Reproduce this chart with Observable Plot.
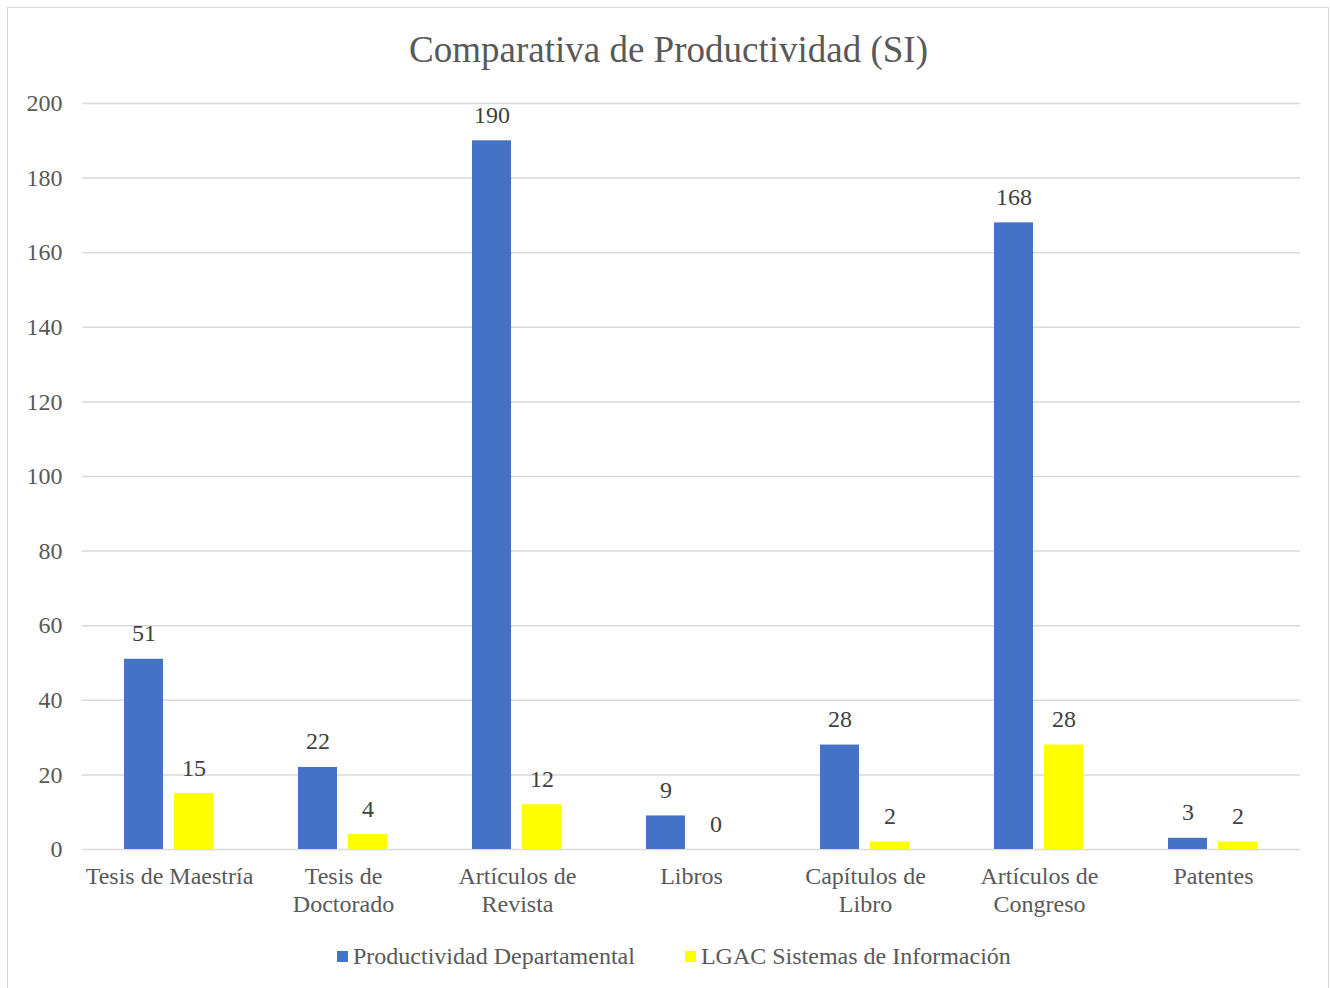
<!DOCTYPE html>
<html><head><meta charset="utf-8">
<script src="https://cdn.jsdelivr.net/npm/d3@7"></script>
<script src="https://cdn.jsdelivr.net/npm/@observablehq/plot@0.6"></script>
<style>
body{margin:0;background:#fff;width:1330px;height:988px;overflow:hidden;position:relative;font-family:"Liberation Serif","Times New Roman",serif;}
#frame{position:absolute;left:7px;top:7px;width:1322px;height:1010px;border:1.5px solid #d9d9d9;box-sizing:border-box;}
#title{position:absolute;left:0;width:1337px;top:31px;text-align:center;font-size:37px;line-height:1;color:#595959;}
#chart{position:absolute;left:0;top:80px;}
#legend{position:absolute;left:337px;top:944px;display:flex;align-items:center;font-size:24px;line-height:24px;color:#595959;white-space:nowrap;}
.item{display:flex;align-items:center;margin-right:50px}
.sw{width:11px;height:11px;margin-right:5px}
</style></head><body>
<div id="frame"></div>
<div id="title">Comparativa de Productividad (SI)</div>
<div id="chart"></div>
<div id="legend"></div>
<script>
const categories = ["Tesis de Maestría","Tesis de Doctorado","Artículos de Revista","Libros","Capítulos de Libro","Artículos de Congreso","Patentes"];
const categoryLabels = ["Tesis de Maestría","Tesis de\nDoctorado","Artículos de\nRevista","Libros","Capítulos de\nLibro","Artículos de\nCongreso","Patentes"];
const series = ["Productividad Departamental","LGAC Sistemas de Información"];
const departamental = [51,22,190,9,28,168,3];
const lgac = [15,4,12,0,2,28,2];
const yTicks = [0,20,40,60,80,100,120,140,160,180,200];
const colors = ["#4472C4","#FFFF00"];

const data = categories.flatMap((c,i)=>[
  {category:c, series:series[0], value:departamental[i]},
  {category:c, series:series[1], value:lgac[i]}
]);

const chart = Plot.plot({
  width:1330, height:860, marginTop:23, marginBottom:91, marginLeft:82, marginRight:30,
  style:{fontFamily:'"Liberation Serif","Times New Roman",serif', fontSize:"24px", background:"transparent", color:"#595959"},
  fx:{domain:categories, padding:0, label:null, axis:null},
  x:{domain:series, paddingInner:0.22, paddingOuter:0.84, align:0.49, axis:null},
  y:{domain:[0,200], axis:null},
  color:{domain:series, range:colors},
  marks:[
    Plot.ruleY(yTicks, {stroke:"#d9d9d9", strokeWidth:1.5}),
    Plot.barY(data, {fx:"category", x:"series", y:"value", fill:"series"}),
    Plot.text(data, {fx:"category", x:"series", y:"value", text:d=>String(d.value), lineAnchor:"bottom", dy:-18, fill:"#404040", fontSize:24}),
    Plot.axisY(yTicks, {tickSize:0, tickPadding:20, fill:"#595959", label:null, fontSize:24}),
    Plot.axisFx({anchor:"bottom", tickSize:0, tickPadding:15, tickFormat:c=>categoryLabels[categories.indexOf(c)], lineHeight:1.1667, fill:"#595959", label:null, fontSize:24})
  ]
});
document.getElementById("chart").appendChild(chart);

const legend = document.getElementById("legend");
series.forEach((s,i)=>{
  const item = document.createElement("div");
  item.className = "item";
  const sw = document.createElement("span");
  sw.className = "sw";
  sw.style.background = colors[i];
  const t = document.createElement("span");
  t.textContent = s;
  item.appendChild(sw); item.appendChild(t);
  legend.appendChild(item);
});
</script>
</body></html>
